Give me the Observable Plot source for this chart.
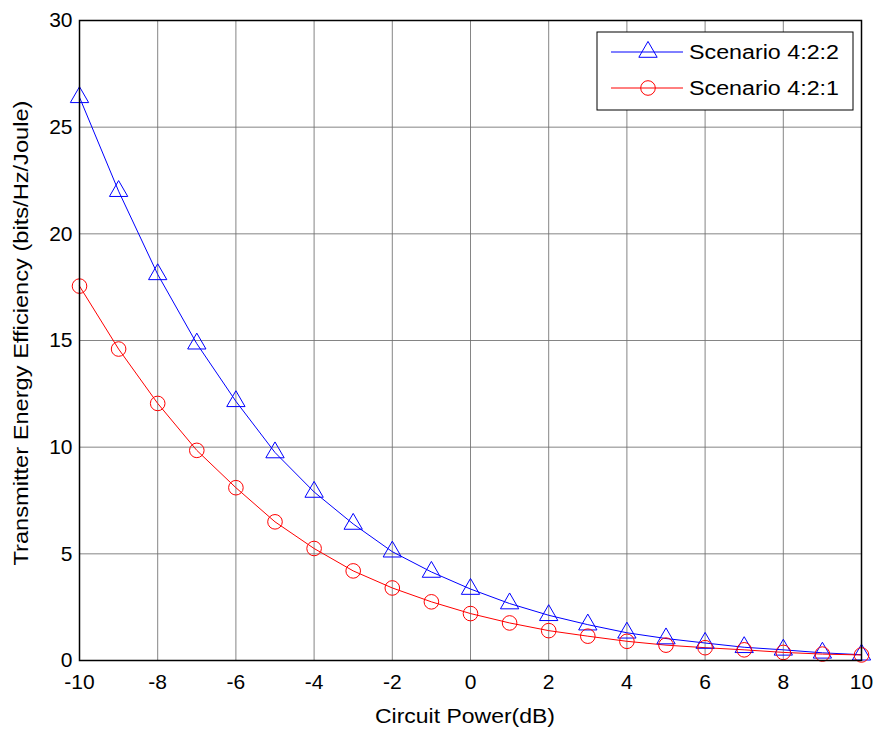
<!DOCTYPE html>
<html><head><meta charset="utf-8">
<script src="https://cdn.jsdelivr.net/npm/d3@7"></script>
<script src="https://cdn.jsdelivr.net/npm/@observablehq/plot@0.6"></script>
<style>body{margin:0;background:#fff;font-family:"Liberation Sans",Arial,sans-serif}</style>
</head><body><div id="chart"></div>
<script>
const circuitPower = [-10,-9,-8,-7,-6,-5,-4,-3,-2,-1,0,1,2,3,4,5,6,7,8,9,10];
const scenario422 = [26.4,22.0,18.1,14.85,12.15,9.75,7.9,6.4,5.1,4.15,3.35,2.67,2.12,1.68,1.3,1.03,0.82,0.62,0.5,0.36,0.27];
const scenario421 = [17.55,14.6,12.05,9.85,8.1,6.5,5.25,4.2,3.4,2.75,2.2,1.76,1.4,1.14,0.9,0.72,0.6,0.5,0.38,0.3,0.26];
const xTicks = [-10,-8,-6,-4,-2,0,2,4,6,8,10];
const yTicks = [0,5,10,15,20,25,30];
const seriesNames = ["Scenario 4:2:2","Scenario 4:2:1"];
const seriesColors = ["#0000ff","#ff0000"];
const xLabel = "Circuit Power(dB)";
const yLabel = "Transmitter Energy Efficiency (bits/Hz/Joule)";

const rows = [];
circuitPower.forEach((x,i)=>{
  rows.push({x, y: scenario422[i], s: seriesNames[0]});
  rows.push({x, y: scenario421[i], s: seriesNames[1]});
});
const blue = rows.filter(d=>d.s===seriesNames[0]);
const red = rows.filter(d=>d.s===seriesNames[1]);

const FS = 20;
const TFS = 21;
const chart = Plot.plot({
  width: 877, height: 729,
  marginLeft: 79, marginRight: 16, marginTop: 20, marginBottom: 69,
  style: {fontFamily: '"Liberation Sans", Arial, sans-serif', fontSize: TFS + "px", color: "#000", background: "#fff"},
  x: {domain: [-10,10], label: null},
  y: {domain: [0,30], label: null},
  marks: [
    Plot.gridX(xTicks, {stroke: "#707070", strokeOpacity: 0.85, strokeWidth: 1}),
    Plot.gridY(yTicks, {stroke: "#707070", strokeOpacity: 0.85, strokeWidth: 1}),
    Plot.axisX({ticks: xTicks, tickFormat: d => String(d), tickSize: 0, tickPadding: 14, fontSize: TFS, label: null}),
    Plot.axisY({ticks: yTicks, tickFormat: d => String(d), tickSize: 0, tickPadding: 7, fontSize: TFS, label: null}),
    Plot.line(blue, {x: "x", y: "y", stroke: seriesColors[0], strokeWidth: 1, curve: "linear"}),
    Plot.line(red, {x: "x", y: "y", stroke: seriesColors[1], strokeWidth: 1, curve: "linear"}),
    Plot.dot(blue, {x: "x", y: "y", symbol: "triangle", r: 6.8, stroke: seriesColors[0], strokeWidth: 1, fill: "none"}),
    Plot.dot(red, {x: "x", y: "y", symbol: "circle", r: 7.3, stroke: seriesColors[1], strokeWidth: 1, fill: "none"}),
    Plot.frame({stroke: "#000", strokeWidth: 1.5})
  ]
});
document.getElementById("chart").appendChild(chart);

const svg = d3.select(chart);
// axis labels
svg.append("text").attr("x", 465).attr("y", 723).attr("text-anchor","middle")
  .attr("font-size", FS).attr("fill","#000")
  .attr("textLength", 180).attr("lengthAdjust","spacingAndGlyphs").text(xLabel);
svg.append("text").attr("transform","translate(28,333) rotate(-90)").attr("text-anchor","middle")
  .attr("font-size", FS).attr("fill","#000")
  .attr("textLength", 465).attr("lengthAdjust","spacingAndGlyphs").text(yLabel);

// legend
const lg = svg.append("g").attr("text-anchor","start");
lg.append("rect").attr("x",597).attr("y",32).attr("width",256).attr("height",78)
  .attr("fill","#fff").attr("stroke","#000").attr("stroke-width",1);
const symTri = d3.symbol(d3.symbolTriangle, 6.8*6.8*Math.PI)();
const symCirc = d3.symbol(d3.symbolCircle, 7.3*7.3*Math.PI)();
seriesNames.forEach((name,i)=>{
  const cy = 52 + i*36;
  lg.append("line").attr("x1",611).attr("x2",683).attr("y1",cy).attr("y2",cy)
    .attr("stroke",seriesColors[i]).attr("stroke-width",1);
  lg.append("path").attr("d", i===0 ? symTri : symCirc).attr("transform",`translate(648,${cy})`)
    .attr("fill","none").attr("stroke",seriesColors[i]).attr("stroke-width",1);
  lg.append("text").attr("x",689).attr("y",cy+7).attr("font-size",FS).attr("fill","#000")
    .attr("textLength",150).attr("lengthAdjust","spacingAndGlyphs").text(name);
});
</script></body></html>
